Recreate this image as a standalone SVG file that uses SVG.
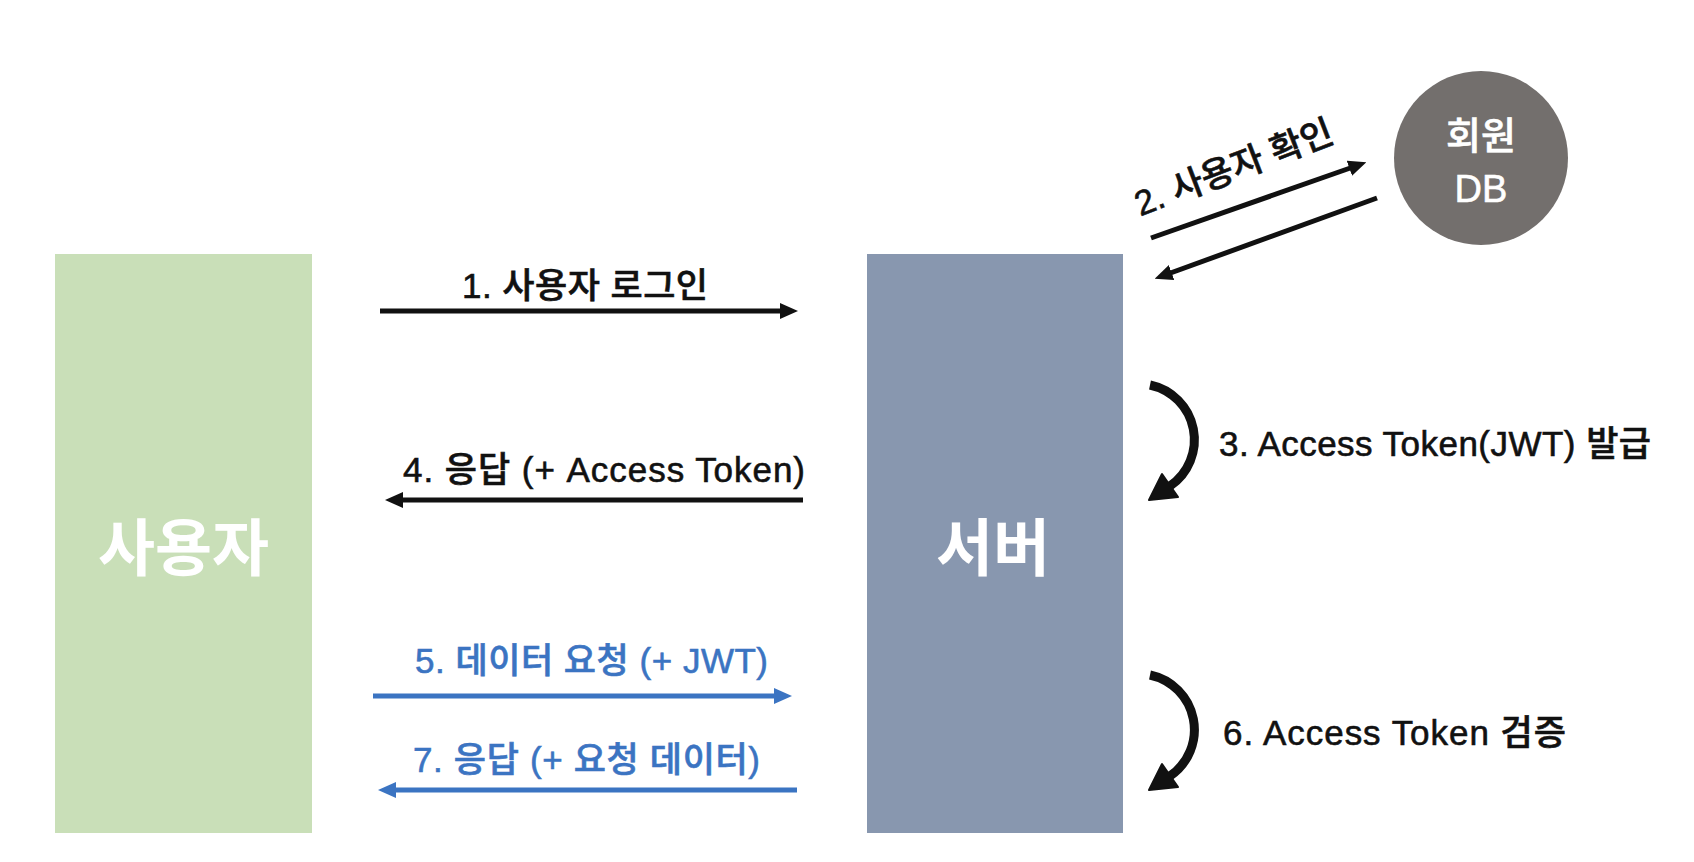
<svg xmlns="http://www.w3.org/2000/svg" width="1694" height="862" viewBox="0 0 1694 862">
<style>
.lbl{font-family:"Liberation Sans","Noto Sans CJK KR",sans-serif;font-size:35px;font-weight:500;fill:#111;stroke:#111;stroke-width:0.6;}
.blue{fill:#3B74C2;stroke:#3B74C2;}
.big{font-family:"Noto Sans CJK KR","Liberation Sans",sans-serif;font-size:62px;font-weight:bold;fill:#fff;text-anchor:middle;}
.dbt{font-family:"Liberation Sans","Noto Sans CJK KR",sans-serif;font-size:38px;font-weight:500;fill:#fff;stroke:#fff;stroke-width:0.6;text-anchor:middle;}
.ln{stroke:#111;stroke-width:5;fill:none;}
.lnb{stroke:#3B74C2;stroke-width:5;fill:none;}
.curve{stroke:#111;stroke-width:9;fill:none;}
</style>
<defs>
<marker id="ah" markerWidth="18" markerHeight="16" refX="7" refY="8" orient="auto" markerUnits="userSpaceOnUse"><path d="M0,0 L18,8 L0,16 z" fill="#111"/></marker>
<marker id="ahb" markerWidth="18" markerHeight="16" refX="7" refY="8" orient="auto" markerUnits="userSpaceOnUse"><path d="M0,0 L18,8 L0,16 z" fill="#3B74C2"/></marker>
</defs>
<rect width="1694" height="862" fill="#fff"/>
<g id="user">
<rect x="55" y="254" width="257" height="579" fill="#C9DFB8"/>
<text class="big" x="183.5" y="571">사용자</text>
</g>
<g id="server">
<rect x="867" y="254" width="256" height="579" fill="#8897AF"/>
<text class="big" x="993" y="571">서버</text>
</g>
<g id="db">
<circle cx="1481" cy="158" r="87" fill="#736F6D"/>
<text class="dbt" x="1481" y="149">회원</text>
<text class="dbt" x="1481" y="202">DB</text>
</g>
<g id="connectors">
<line class="ln" x1="380" y1="311" x2="787" y2="311" marker-end="url(#ah)"/>
<text class="lbl" x="462" y="298" textLength="246">1. 사용자 로그인</text>
<line class="ln" x1="1151" y1="238" x2="1356" y2="166" marker-end="url(#ah)"/>
<line class="ln" x1="1377" y1="198" x2="1165" y2="275" marker-end="url(#ah)"/>
<text class="lbl" font-size="29" transform="translate(1238 179) rotate(-21)" text-anchor="middle">2. 사용자 확인</text>
<path class="curve" d="M1150,385 A56,56 0 0 1 1170,486"/>
<polygon points="1149,500 1178,497 1162,474" fill="#111" stroke="#111" stroke-width="2" stroke-linejoin="round"/>
<text class="lbl" x="1219" y="456" textLength="432">3. Access Token(JWT) 발급</text>
<line class="ln" x1="803" y1="500" x2="396" y2="500" marker-end="url(#ah)"/>
<text class="lbl" x="403" y="482" textLength="402">4. 응답 (+ Access Token)</text>
<line class="lnb" x1="373" y1="696" x2="781" y2="696" marker-end="url(#ahb)"/>
<text class="lbl blue" x="415" y="673" textLength="353">5. 데이터 요청 (+ JWT)</text>
<path class="curve" d="M1150,675 A56,56 0 0 1 1170,776"/>
<polygon points="1149,790 1178,787 1162,764" fill="#111" stroke="#111" stroke-width="2" stroke-linejoin="round"/>
<text class="lbl" x="1223" y="745" textLength="343">6. Access Token 검증</text>
<line class="lnb" x1="797" y1="790" x2="389" y2="790" marker-end="url(#ahb)"/>
<text class="lbl blue" x="413" y="772" textLength="347">7. 응답 (+ 요청 데이터)</text>
</g>
</svg>
